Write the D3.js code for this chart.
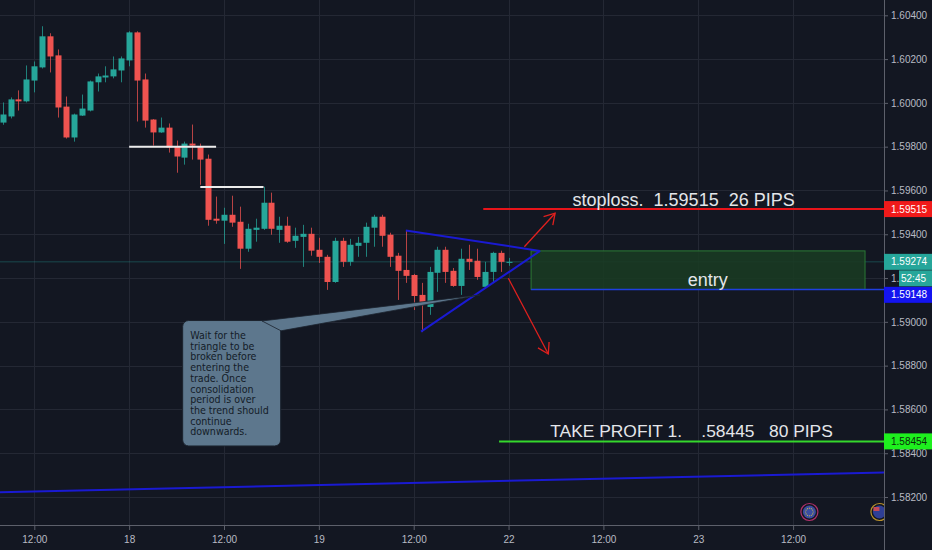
<!DOCTYPE html>
<html>
<head>
<meta charset="utf-8">
<script src="https://cdn.jsdelivr.net/npm/d3@7"></script>
<style>
  html, body { margin: 0; padding: 0; background: #131722; }
  svg { display: block; }
</style>
</head>
<body>
<svg id="chart" width="932" height="550"></svg>
<script>
// hourly candles, index 0 = first bar on the left
const opens = [1.59910, 1.59938, 1.60016, 1.60007, 1.60102, 1.60162, 1.60304, 1.60217, 1.59983, 1.59842,
  1.59942, 1.59965, 1.60094, 1.60116, 1.60121, 1.60148, 1.60194, 1.60322, 1.60107, 1.59924,
  1.59865, 1.59887, 1.59800, 1.59750, 1.59814, 1.59800, 1.59745, 1.59471, 1.59462, 1.59489,
  1.59457, 1.59334, 1.59420, 1.59425, 1.59544, 1.59420, 1.59439, 1.59370, 1.59388, 1.59402,
  1.59329, 1.59297, 1.59182, 1.59370, 1.59274, 1.59347, 1.59361, 1.59430, 1.59480, 1.59398,
  1.59302, 1.59237, 1.59214, 1.59123, 1.59068, 1.59224, 1.59329, 1.59233, 1.59164, 1.59288,
  1.59279, 1.59160, 1.59228, 1.59315, 1.59274];
const highs = [1.60002, 1.60025, 1.60057, 1.60171, 1.60189, 1.60350, 1.60318, 1.60244, 1.60029, 1.59951,
  1.60038, 1.60102, 1.60134, 1.60167, 1.60212, 1.60212, 1.60327, 1.60327, 1.60134, 1.59926,
  1.59933, 1.59906, 1.59828, 1.59823, 1.59901, 1.59814, 1.59764, 1.59572, 1.59521, 1.59576,
  1.59526, 1.59448, 1.59471, 1.59617, 1.59590, 1.59480, 1.59480, 1.59430, 1.59443, 1.59430,
  1.59384, 1.59306, 1.59384, 1.59384, 1.59379, 1.59388, 1.59453, 1.59489, 1.59489, 1.59407,
  1.59315, 1.59416, 1.59219, 1.59178, 1.59251, 1.59343, 1.59343, 1.59246, 1.59334, 1.59352,
  1.59334, 1.59274, 1.59320, 1.59325, 1.59292];
const lows = [1.59900, 1.59929, 1.59965, 1.60002, 1.60048, 1.60157, 1.60139, 1.59933, 1.59837, 1.59823,
  1.59940, 1.59961, 1.60052, 1.60094, 1.60112, 1.60094, 1.60167, 1.59915, 1.59887, 1.59805,
  1.59863, 1.59773, 1.59681, 1.59718, 1.59741, 1.59626, 1.59439, 1.59448, 1.59356, 1.59434,
  1.59242, 1.59320, 1.59366, 1.59420, 1.59398, 1.59361, 1.59361, 1.59338, 1.59251, 1.59302,
  1.59269, 1.59146, 1.59178, 1.59251, 1.59256, 1.59297, 1.59297, 1.59343, 1.59343, 1.59251,
  1.59100, 1.59178, 1.59054, 1.58953, 1.59032, 1.59137, 1.59178, 1.59160, 1.59123, 1.59237,
  1.59192, 1.59155, 1.59178, 1.59228, 1.59256];
const closes = [1.59947, 1.60016, 1.60007, 1.60107, 1.60167, 1.60304, 1.60212, 1.59979, 1.59842, 1.59947,
  1.59974, 1.60098, 1.60121, 1.60125, 1.60153, 1.60203, 1.60322, 1.60102, 1.59919, 1.59865,
  1.59887, 1.59796, 1.59755, 1.59814, 1.59805, 1.59741, 1.59466, 1.59462, 1.59489, 1.59453,
  1.59334, 1.59425, 1.59430, 1.59544, 1.59425, 1.59439, 1.59366, 1.59393, 1.59402, 1.59325,
  1.59297, 1.59182, 1.59370, 1.59274, 1.59352, 1.59361, 1.59434, 1.59480, 1.59393, 1.59297,
  1.59233, 1.59210, 1.59118, 1.59091, 1.59228, 1.59329, 1.59228, 1.59164, 1.59288, 1.59274,
  1.59205, 1.59228, 1.59315, 1.59274, 1.59274];

const xTickIdx = [4, 16, 28, 40, 52, 64, 76, 88, 100];
const xTickLabels = ["12:00", "18", "12:00", "19", "12:00", "22", "12:00", "23", "12:00"];
const yTicks = [1.582, 1.584, 1.586, 1.588, 1.590, 1.592, 1.594, 1.596, 1.598, 1.600, 1.602, 1.604];

// drawings, in [bar index, price]
const whiteLevels = [[[16, 1.59800], [27, 1.59800]], [[25, 1.59616], [33, 1.59616]]];
const triangleUpper = [[51.0, 1.59417], [67.99, 1.59324]];
const triangleLower = [[52.93, 1.58955], [67.99, 1.59324]];
const trendLine = [[-0.34, 1.58222], [111.5, 1.58312]];
const arrowUp = [[66.0, 1.59343], [69.89, 1.59496]];
const arrowDown = [[63.97, 1.59199], [69.03, 1.58853]];
const stopLoss = { price: 1.59515, from: 60.8, text: "stoploss.  1.59515  26 PIPS" };
const takeProfit = { price: 1.58454, from: 62.8, text: "TAKE PROFIT 1.    .58445   80 PIPS" };
const entryZone = { top: 1.59324, bottom: 1.59148, from: 66.85, to: 109.1, labelAt: 89.2, text: "entry" };
const calloutBox = [[22.77, 1.59006], [35.17, 1.58433]];
const calloutTail = [[32.81, 1.59004], [35.21, 1.58959], [60.40, 1.59123]];
const calloutLines = ["Wait for the", "triangle to be", "broken before", "entering the", "trade. Once",
  "consolidation", "period is over", "the trend should", "continue", "downwards."];
const lastPrice = 1.59274;
const countdown = "52:45";
const eventIdx = [102.06, 110.92];

const width = 932;
const height = 550;
const plotW = 884;
const plotH = 525;
const cdLeft = 899;
const up = "#26a69a";
const down = "#ef5350";

const x = d3.scaleLinear().domain([-0.34, 111.5]).range([0, plotW]);
const y = d3.scaleLinear().domain([1.582, 1.604]).range([497, 15.3]);
const px = (d) => x(d[0]);
const py = (d) => y(d[1]);

const svg = d3.select("#chart");
svg.append("rect").attr("width", width).attr("height", height).attr("fill", "#131722");
const defs = svg.append("defs");
defs.append("clipPath").attr("id", "plot")
  .append("rect").attr("width", plotW).attr("height", plotH);
// the countdown tag hides the right part of the tick label under it
defs.append("clipPath").attr("id", "undercd")
  .append("rect").attr("x", -plotW).attr("y", -20).attr("width", plotW + cdLeft - plotW).attr("height", 40);

// grid
const grid = svg.append("g").attr("stroke", "#242834").attr("stroke-width", 1);
grid.selectAll(".gv").data(xTickIdx).enter().append("line")
  .attr("x1", (d) => Math.round(x(d)) + 0.5).attr("x2", (d) => Math.round(x(d)) + 0.5)
  .attr("y1", 0).attr("y2", plotH);
grid.selectAll(".gh").data(yTicks).enter().append("line")
  .attr("x1", 0).attr("x2", plotW)
  .attr("y1", (d) => Math.round(y(d)) + 0.5).attr("y2", (d) => Math.round(y(d)) + 0.5);

const plot = svg.append("g").attr("clip-path", "url(#plot)");

// last price line
plot.append("line")
  .attr("x1", 0).attr("x2", plotW)
  .attr("y1", y(lastPrice)).attr("y2", y(lastPrice))
  .attr("stroke", up).attr("stroke-opacity", 0.35).attr("stroke-width", 1);

// candles
const candles = opens.map((o, i) => ({ i, o, h: highs[i], l: lows[i], c: closes[i] }));
const color = (d) => (d.c >= d.o ? up : down);

plot.selectAll(".wick").data(candles).enter().append("line")
  .attr("class", "wick")
  .attr("x1", (d) => Math.round(x(d.i)) + 0.5)
  .attr("x2", (d) => Math.round(x(d.i)) + 0.5)
  .attr("y1", (d) => y(d.h))
  .attr("y2", (d) => y(d.l))
  .attr("stroke", color)
  .attr("stroke-opacity", 0.75)
  .attr("stroke-width", 1);

plot.selectAll(".body").data(candles).enter().append("rect")
  .attr("class", "body")
  .attr("x", (d) => Math.round(x(d.i)) - 2.5)
  .attr("width", 6)
  .attr("y", (d) => y(Math.max(d.o, d.c)))
  .attr("height", (d) => Math.max(1, Math.abs(y(d.o) - y(d.c))))
  .attr("fill", color);

// white levels
plot.selectAll(".wl").data(whiteLevels).enter().append("line")
  .attr("x1", (d) => px(d[0])).attr("x2", (d) => px(d[1]))
  .attr("y1", (d) => py(d[0])).attr("y2", (d) => py(d[1]))
  .attr("stroke", "#ececec").attr("stroke-width", 2);

// entry zone
plot.append("rect")
  .attr("x", x(entryZone.from))
  .attr("y", y(entryZone.top))
  .attr("width", x(entryZone.to) - x(entryZone.from))
  .attr("height", y(entryZone.bottom) - y(entryZone.top))
  .attr("fill", "#1a3a22").attr("fill-opacity", 0.9)
  .attr("stroke", "#2b7a35").attr("stroke-width", 1);
plot.append("line")
  .attr("x1", x(entryZone.from)).attr("x2", plotW)
  .attr("y1", y(entryZone.bottom)).attr("y2", y(entryZone.bottom))
  .attr("stroke", "#1f3fe0").attr("stroke-width", 1.5);

// stop loss / take profit
plot.append("line")
  .attr("x1", x(stopLoss.from)).attr("x2", plotW)
  .attr("y1", y(stopLoss.price)).attr("y2", y(stopLoss.price))
  .attr("stroke", "#e8141a").attr("stroke-width", 2);
plot.append("line")
  .attr("x1", x(takeProfit.from)).attr("x2", plotW)
  .attr("y1", y(takeProfit.price)).attr("y2", y(takeProfit.price))
  .attr("stroke", "#35d82c").attr("stroke-width", 2);

// blue lines
const line = d3.line().x(px).y(py);
[triangleUpper, triangleLower, trendLine].forEach((pts) => {
  plot.append("path").attr("d", line(pts))
    .attr("fill", "none").attr("stroke", "#1a1ad2").attr("stroke-width", 2);
});

// red arrows
function arrow(pts) {
  const x1 = px(pts[0]), y1 = py(pts[0]), x2 = px(pts[1]), y2 = py(pts[1]);
  const a = Math.atan2(y1 - y2, x1 - x2);
  const len = 12, spread = 0.55;
  const g = plot.append("g").attr("stroke", "#e0201e").attr("stroke-width", 1.3).attr("fill", "none");
  g.append("line").attr("x1", x1).attr("y1", y1).attr("x2", x2).attr("y2", y2);
  g.append("path").attr("d",
    `M${x2 + len * Math.cos(a + spread)},${y2 + len * Math.sin(a + spread)}L${x2},${y2}L${x2 + len * Math.cos(a - spread)},${y2 + len * Math.sin(a - spread)}`);
}
arrow(arrowUp);
arrow(arrowDown);

// callout
const calloutFill = "#5d778d";
plot.append("rect")
  .attr("x", px(calloutBox[0])).attr("y", py(calloutBox[0]))
  .attr("width", px(calloutBox[1]) - px(calloutBox[0]))
  .attr("height", py(calloutBox[1]) - py(calloutBox[0]))
  .attr("rx", 6)
  .attr("fill", calloutFill).attr("stroke", "#1c232e").attr("stroke-width", 1);
plot.append("path")
  .attr("d", "M" + calloutTail.map((d) => px(d) + "," + py(d)).join("L") + "Z")
  .attr("fill", calloutFill).attr("stroke", "#1c232e").attr("stroke-width", 0.8);
plot.append("text")
  .attr("font-family", "DejaVu Sans Condensed, DejaVu Sans").attr("font-stretch", "condensed")
  .attr("font-size", 10.6).attr("fill", "#141c28")
  .selectAll("tspan").data(calloutLines).enter().append("tspan")
  .attr("x", px(calloutBox[0]) + 7.5)
  .attr("y", (d, i) => py(calloutBox[0]) + 18.5 + i * 10.7)
  .text((d) => d);

// big labels
const bigText = (tx, ty, t, size) => plot.append("text")
  .attr("x", tx).attr("y", ty).attr("text-anchor", "middle")
  .attr("font-family", "Liberation Sans, Arial, sans-serif").attr("font-size", size)
  .attr("fill", "#e4e6ea").style("white-space", "pre").text(t);
bigText((x(stopLoss.from) + plotW) / 2, y(stopLoss.price) - 3.5, stopLoss.text, 18);
bigText((x(takeProfit.from) + plotW) / 2, y(takeProfit.price) - 4, takeProfit.text, 17.4);
bigText(x(entryZone.labelAt), y(entryZone.bottom) - 3.5, entryZone.text, 18);

// event icons
const ev = plot.selectAll(".ev").data(eventIdx).enter().append("g")
  .attr("transform", (d) => `translate(${x(d)},512)`);
ev.append("circle").attr("r", 8.5).attr("fill", "none")
  .attr("stroke", (d, i) => (i === 0 ? "#b0306a" : "#b8902a")).attr("stroke-width", 1.2);
ev.append("circle").attr("r", 6.5).attr("fill", (d, i) => (i === 0 ? "#3b4da0" : "#2f3f96"));
ev.filter((d, i) => i === 0).selectAll(".star").data(d3.range(12)).enter().append("circle")
  .attr("cx", (k) => 3.8 * Math.cos(k * Math.PI / 6))
  .attr("cy", (k) => 3.8 * Math.sin(k * Math.PI / 6))
  .attr("r", 0.6).attr("fill", "#c9b84a");
ev.filter((d, i) => i === 1).append("rect")
  .attr("x", -6).attr("y", -5).attr("width", 6).attr("height", 4).attr("fill", "#c24a5a");

// axes
const tickFont = "Liberation Sans, Arial, sans-serif";
const yAxis = svg.append("g").attr("transform", `translate(${plotW},0)`)
  .call(d3.axisRight(y).tickValues(yTicks).tickFormat(d3.format(".5f")).tickSize(4).tickPadding(3));
yAxis.select(".domain").remove();
yAxis.selectAll("line").attr("stroke", "#5d606b");
yAxis.selectAll("text").attr("fill", "#b8bbc4").attr("font-size", 10).attr("font-family", tickFont);
// tick right under the countdown tag
yAxis.selectAll(".tick").filter((d) => Math.abs(y(d) - (y(lastPrice) + 16.5)) < 9)
  .select("text").attr("clip-path", "url(#undercd)");

const xAxis = svg.append("g").attr("transform", `translate(0,${plotH})`)
  .call(d3.axisBottom(x).tickValues(xTickIdx).tickFormat((d, i) => xTickLabels[i]).tickSize(5).tickPadding(6));
xAxis.select(".domain").remove();
xAxis.selectAll("line").attr("stroke", "#5d606b");
xAxis.selectAll("text").attr("fill", "#b8bbc4").attr("font-size", 10).attr("font-family", tickFont);

svg.append("line").attr("x1", 0).attr("x2", plotW).attr("y1", plotH + 0.5).attr("y2", plotH + 0.5)
  .attr("stroke", "#5d606b");
svg.append("line").attr("x1", plotW + 0.5).attr("x2", plotW + 0.5).attr("y1", 0).attr("y2", height)
  .attr("stroke", "#5d606b");

// price tags on the scale
function tag(cy, fill, label, textFill, x0 = plotW) {
  svg.append("rect").attr("x", x0).attr("y", cy - 8).attr("width", width - x0).attr("height", 16).attr("fill", fill);
  svg.append("text").attr("x", x0 === plotW ? plotW + 7 : x0 + 2).attr("y", cy).attr("dy", "0.35em")
    .attr("font-family", tickFont).attr("font-size", 10).attr("fill", textFill).text(label);
}
const fmt = d3.format(".5f");
tag(y(stopLoss.price), "#f01a1a", fmt(stopLoss.price), "#ffffff");
tag(y(lastPrice), up, fmt(lastPrice), "#ffffff");
const cdY = y(lastPrice) + 16.5;
tag(cdY, up, countdown, "#ffffff", cdLeft);
tag(Math.max(y(entryZone.bottom), cdY + 16.5), "#1414f0", fmt(entryZone.bottom), "#ffffff");
tag(y(takeProfit.price), "#1ef01e", fmt(takeProfit.price), "#0b2a0b");
</script>
</body>
</html>
